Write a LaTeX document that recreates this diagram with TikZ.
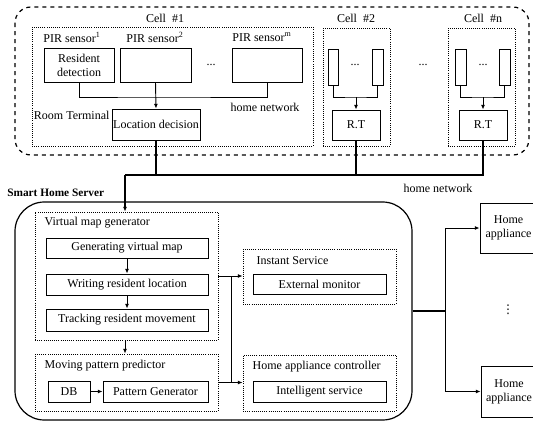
\documentclass[tikz,border=0pt]{standalone}
\usepackage{fontspec}
\setmainfont{Liberation Serif}
\newfontfamily\symfont{DejaVu Sans}
\usetikzlibrary{arrows.meta}
\begin{document}
\begin{tikzpicture}[
    x=0.75pt, y=-0.75pt,
    font=\fontsize{9}{10.5}\selectfont,
    box/.style={draw, line width=0.7pt, inner sep=0pt, align=center},
    grp/.style={draw, densely dotted, line width=0.6pt, inner sep=0pt},
    arr/.style={-{Latex[length=3.5pt,width=3pt]}},
    wire/.style={line width=0.7pt},
    bus/.style={line width=1pt}
  ]
  \useasboundingbox (0,0) rectangle (533,425);

  % room terminals
  \draw[dashed, line width=0.9pt, rounded corners=12pt] (15,7) rectangle (529,155);

  % cell 1
  \node[grp, minimum width=210.75pt, minimum height=89.25pt] (cell1) at (172.5,86.5) {};
  \node (c1lbl) at (165,18) {Cell\ \ \#1};
  \node (p1lbl) at (72,37) {PIR sensor\textsuperscript{1}};
  \node (p2lbl) at (155,37) {PIR sensor\textsuperscript{2}};
  \node (pmlbl) at (262,37) {PIR sensor\textsuperscript{m}};
  \node[box, minimum width=52.5pt, minimum height=25.5pt] (s1) at (79,65) {Resident\\detection};
  \node[box, minimum width=53.25pt, minimum height=25.5pt] (s2) at (155.5,65) {};
  \node[box, minimum width=52.5pt, minimum height=25.5pt] (sm) at (267,65) {};
  \node (dots1) at (211,65) {...};
  \node[box, minimum width=66pt, minimum height=23.25pt] (ld) at (156,124.5) {Location decision};
  \node[anchor=east, inner sep=1pt] (rtlbl) at (111,115) {Room Terminal};
  \node (hn1) at (265,107) {home network};
  \coordinate (b1) at (155,97);
  \draw[wire] (s1.south) |- (b1) -| (sm.south);
  \draw[wire, arr] (s2.south) -- (ld.north);

  % cell 2
  \node[grp, minimum width=50.25pt, minimum height=88.5pt] (cell2) at (356.5,87) {};
  \node (c2lbl) at (356,18) {Cell\ \ \#2};
  \node[box, minimum width=7.5pt, minimum height=27pt] (t2a) at (333,67) {};
  \node[box, minimum width=8.25pt, minimum height=27pt] (t2b) at (377.5,67) {};
  \node (dots2) at (355,65) {...};
  \node[box, minimum width=36pt, minimum height=22.5pt] (rt2) at (356,125) {R.T};
  \coordinate (b2) at (356,97);
  \draw[wire] (t2a.south) |- (b2) -| (t2b.south);
  \draw[wire, arr] (b2) -- (rt2.north);

  \node (dotsc) at (423,65) {...};

  % cell n
  \node[grp, minimum width=50.25pt, minimum height=88.5pt] (celln) at (481.5,87) {};
  \node (cnlbl) at (483,18) {Cell\ \ \#n};
  \node[box, minimum width=8.25pt, minimum height=27pt] (tna) at (460.5,67) {};
  \node[box, minimum width=8.25pt, minimum height=27pt] (tnb) at (504.5,67) {};
  \node (dotsn) at (483,65) {...};
  \node[box, minimum width=36pt, minimum height=22.5pt] (rtn) at (483,125) {R.T};
  \coordinate (bn) at (483,97);
  \draw[wire] (tna.south) |- (bn) -| (tnb.south);
  \draw[wire, arr] (bn) -- (rtn.north);

  % home network to server
  \coordinate (hn) at (125,175);
  \draw[bus] (ld.south) |- (hn);
  \draw[bus] (rt2.south) |- (hn);
  \draw[bus] (rtn.south) |- (hn);
  \node (hn2) at (438,188) {home network};

  % smart home server
  \node[anchor=west, inner sep=0pt, font=\fontsize{8.5}{10}\selectfont\bfseries] (shs) at (7,193) {Smart Home Server};
  \node[draw, line width=0.9pt, rounded corners=22pt, inner sep=0pt,
        minimum width=297.75pt, minimum height=163.5pt] (srv) at (213.5,311) {};

  \node[grp, minimum width=137.25pt, minimum height=96pt] (vmg) at (126.5,276) {};
  \node[anchor=west] (vmglbl) at (40,223) {Virtual map generator};
  \node[box, minimum width=121.5pt, minimum height=15pt] (gvm) at (127,248) {Generating virtual map};
  \node[box, minimum width=121.5pt, minimum height=15.75pt] (wrl) at (127,284.5) {Writing resident location};
  \node[box, minimum width=121.5pt, minimum height=16.5pt] (trm) at (127,320) {Tracking resident movement};
  \draw[wire, arr] (gvm) -- (wrl);
  \draw[wire, arr] (wrl) -- (trm);

  \node[grp, minimum width=137.25pt, minimum height=42.75pt] (mpp) at (126.5,382.5) {};
  \node[anchor=west] (mpplbl) at (40,366) {Moving pattern predictor};
  \node[box, minimum width=31.5pt, minimum height=15.75pt] (db) at (69,391.5) {DB};
  \node[box, minimum width=78.75pt, minimum height=15.75pt] (pg) at (155.5,391.5) {Pattern Generator};
  \draw[wire, arr] (db) -- (pg);

  \draw[bus, arr] (hn) -- (hn |- vmg.north);
  \draw[wire, arr] (vmg.south -| hn) -- (mpp.north -| hn);

  \node[grp, minimum width=114.75pt, minimum height=41.25pt] (isv) at (319.5,276.5) {};
  \node[anchor=west] (isvlbl) at (252,261) {Instant Service};
  \node[box, minimum width=99.75pt, minimum height=15pt] (em) at (319.5,284) {External monitor};

  \node[grp, minimum width=114.75pt, minimum height=42pt] (hac) at (319.5,383) {};
  \node[anchor=west] (haclbl) at (248,367) {Home appliance controller};
  \node[box, minimum width=99.75pt, minimum height=15.75pt] (ins) at (319.5,391.5) {Intelligent service};

  \draw[wire, arr] (vmg.east) -- (vmg.east -| isv.west);
  \draw[wire, arr] (mpp.east) -- (mpp.east -| hac.west);
  \coordinate (jn) at (231,0);
  \draw[wire] (jn |- vmg.east) -- (jn |- mpp.east);

  % home appliances
  \node[box, minimum width=42.75pt, minimum height=37.5pt] (ha1) at (508.5,228) {Home\\appliance};
  \node[box, minimum width=42pt, minimum height=38.25pt] (han) at (509,391.5) {Home\\appliance};
  \node (vdots) at (508,310) {\symfont ⋮};
  \coordinate (br) at (445,0);
  \draw[bus] (srv.east) -- (br |- srv.east);
  \draw[wire, arr] (br |- srv.east) |- (ha1.west);
  \draw[wire, arr] (br |- srv.east) |- (han.west);
\end{tikzpicture}
\end{document}
